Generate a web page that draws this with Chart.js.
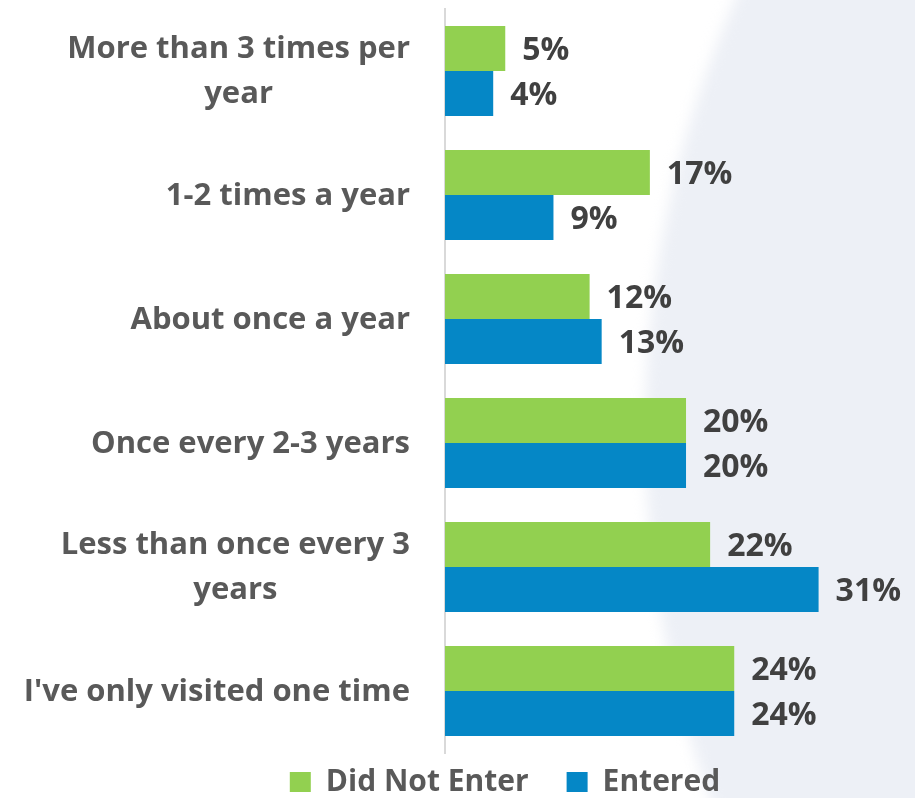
<!DOCTYPE html>
<html>
<head>
<meta charset="utf-8">
<script src="https://cdn.jsdelivr.net/npm/chart.js@4/dist/chart.umd.min.js"></script>
<style>
  html, body { margin: 0; padding: 0; background: #ffffff; overflow: hidden; }
  #wrap { width: 915px; height: 831px; position: relative; }
</style>
</head>
<body>
<div id="wrap"><canvas id="visits"></canvas></div>
<script>
// Visit frequency categories (multi-line labels are arrays of lines)
const categories = [
  ['More than 3 times per', 'year'],
  '1-2 times a year',
  'About once a year',
  'Once every 2-3 years',
  ['Less than once every 3', 'years'],
  "I've only visited one time"
];

// Share of respondents, in percent
const didNotEnter = [5, 17, 12, 20, 22, 24];
const entered = [4, 9, 13, 20, 31, 24];

const seriesNames = ['Did Not Enter', 'Entered'];
const seriesColors = ['#92D050', '#0587C6'];

const FONT = '"Open Sans", "Liberation Sans", sans-serif';

// Soft light backdrop arc on the right side of the canvas
const backdrop = {
  id: 'backdrop',
  beforeDraw(chart) {
    const ctx = chart.ctx;
    ctx.save();
    ctx.fillStyle = '#ffffff';
    ctx.fillRect(0, 0, chart.width, chart.height);
    ctx.filter = 'blur(7px)';
    ctx.fillStyle = '#EDF0F6';
    ctx.beginPath();
    ctx.arc(1717, 430, 1072, 0, Math.PI * 2);
    ctx.fill();
    ctx.restore();
  }
};

// Category labels: block right-aligned against the axis, lines centred within the block
const categoryLabels = {
  id: 'categoryLabels',
  afterDraw(chart) {
    const ctx = chart.ctx;
    const y = chart.scales.y;
    const right = chart.chartArea.left - 35;
    const lineH = 45;
    ctx.save();
    ctx.font = 'bold 31px ' + FONT;
    ctx.fillStyle = '#595959';
    ctx.textAlign = 'center';
    ctx.textBaseline = 'middle';
    categories.forEach((lab, i) => {
      const lines = Array.isArray(lab) ? lab : [lab];
      const widest = Math.max(...lines.map(l => ctx.measureText(l).width));
      const cx = right - widest / 2;
      const cy = y.getPixelForTick(i) + 1;
      lines.forEach((l, j) => {
        ctx.fillText(l, cx, cy + (j - (lines.length - 1) / 2) * lineH);
      });
    });
    ctx.restore();
  }
};

// Percentage label after the end of each bar
const valueLabels = {
  id: 'valueLabels',
  afterDatasetsDraw(chart) {
    const ctx = chart.ctx;
    ctx.save();
    ctx.font = 'bold 32px ' + FONT;
    ctx.fillStyle = '#404040';
    ctx.textAlign = 'left';
    ctx.textBaseline = 'middle';
    chart.data.datasets.forEach((ds, di) => {
      chart.getDatasetMeta(di).data.forEach((bar, i) => {
        ctx.fillText(ds.data[i] + '%', bar.x + 17, bar.y + 2);
      });
    });
    ctx.restore();
  }
};

// Pull the legend row up closer to the plot
const legendShift = {
  id: 'legendShift',
  afterLayout(chart) {
    const lg = chart.legend;
    if (lg) { lg.top -= 24; lg.bottom -= 24; }
  }
};

new Chart(document.getElementById('visits'), {
  type: 'bar',
  data: {
    labels: categories,
    datasets: [
      { label: seriesNames[0], data: didNotEnter, backgroundColor: seriesColors[0] },
      { label: seriesNames[1], data: entered, backgroundColor: seriesColors[1] }
    ]
  },
  options: {
    indexAxis: 'y',
    responsive: true,
    maintainAspectRatio: false,
    animation: false,
    layout: { padding: { top: 9, left: 95, right: 0, bottom: 0 } },
    datasets: { bar: { categoryPercentage: 0.726, barPercentage: 1 } },
    scales: {
      x: { display: false, min: 0, max: 39 },
      y: {
        grid: { display: false },
        border: { display: true, color: '#D9D9D9', width: 2 },
        ticks: { display: false },
        afterFit(scale) { scale.width = 350; }
      }
    },
    plugins: {
      legend: {
        position: 'bottom',
        labels: {
          boxWidth: 21,
          boxHeight: 20,
          padding: 38,
          color: '#595959',
          font: { family: FONT, size: 30, weight: 'bold' }
        }
      },
      tooltip: { enabled: false }
    }
  },
  plugins: [backdrop, categoryLabels, valueLabels, legendShift]
});
</script>
</body>
</html>
